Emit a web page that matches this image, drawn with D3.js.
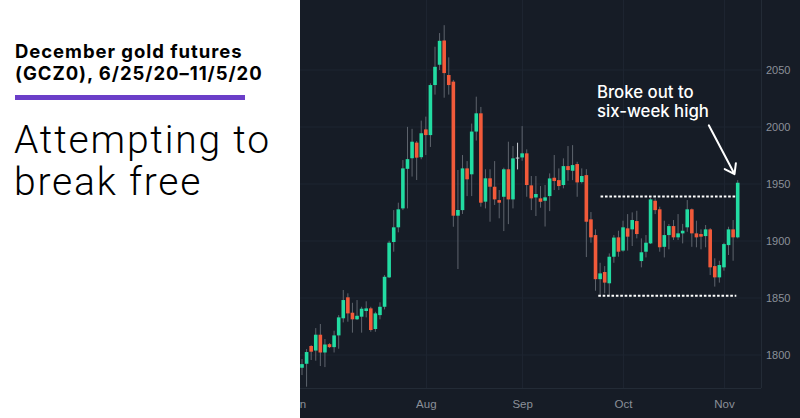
<!DOCTYPE html>
<html><head><meta charset="utf-8">
<script src="https://cdnjs.cloudflare.com/ajax/libs/d3/7.8.5/d3.min.js"></script>
<style>html,body{margin:0;padding:0;background:#fff;}svg{display:block;}</style>
</head><body>
<svg id="c" width="800" height="418"></svg>
<script>
const dates = [
"2020-06-25","2020-06-26","2020-06-29","2020-06-30",
"2020-07-01","2020-07-02","2020-07-03","2020-07-06","2020-07-07","2020-07-08","2020-07-09","2020-07-10","2020-07-13","2020-07-14","2020-07-15","2020-07-16","2020-07-17","2020-07-20","2020-07-21","2020-07-22","2020-07-23","2020-07-24","2020-07-27","2020-07-28","2020-07-29","2020-07-30","2020-07-31",
"2020-08-03","2020-08-04","2020-08-05","2020-08-06","2020-08-07","2020-08-10","2020-08-11","2020-08-12","2020-08-13","2020-08-14","2020-08-17","2020-08-18","2020-08-19","2020-08-20","2020-08-21","2020-08-24","2020-08-25","2020-08-26","2020-08-27","2020-08-28","2020-08-31",
"2020-09-01","2020-09-02","2020-09-03","2020-09-04","2020-09-07","2020-09-08","2020-09-09","2020-09-10","2020-09-11","2020-09-14","2020-09-15","2020-09-16","2020-09-17","2020-09-18","2020-09-21","2020-09-22","2020-09-23","2020-09-24","2020-09-25","2020-09-28","2020-09-29","2020-09-30",
"2020-10-01","2020-10-02","2020-10-05","2020-10-06","2020-10-07","2020-10-08","2020-10-09","2020-10-12","2020-10-13","2020-10-14","2020-10-15","2020-10-16","2020-10-19","2020-10-20","2020-10-21","2020-10-22","2020-10-23","2020-10-26","2020-10-27","2020-10-28","2020-10-29","2020-10-30",
"2020-11-02","2020-11-03","2020-11-04","2020-11-05"];

const open = [1788.8,1792.3,1807.9,1803.9,1817.8,1802.2,1809.5,1806.9,1817.2,1832.2,1850.6,1837.1,1831.3,1833.6,1838.6,1840.9,1822.8,1835.0,1842.3,1868.1,1899.1,1912.0,1928.6,1963.3,1972.6,1986.3,1973.5,1997.9,1992.9,2036.8,2054.6,2075.9,2045.6,2039.8,1922.2,1927.1,1963.7,1958.5,1996.0,2012.0,1934.5,1955.0,1947.6,1935.9,1938.8,1962.9,1936.5,1973.2,1973.3,1976.9,1948.8,1938.2,1937.4,1935.3,1939.4,1955.5,1953.4,1949.1,1965.7,1961.6,1967.5,1951.7,1957.8,1919.0,1905.2,1866.5,1872.8,1862.9,1886.2,1903.2,1891.6,1911.1,1910.2,1917.5,1882.4,1890.6,1897.9,1935.3,1927.8,1894.9,1905.2,1913.1,1903.2,1906.7,1912.0,1927.8,1906.7,1906.1,1904.3,1910.2,1878.0,1868.1,1876.9,1896.4,1910.2,1903.2];
const high = [1796.5,1805.2,1808.7,1823.6,1827.2,1814.0,1810.4,1821.3,1835.0,1857.0,1854.1,1845.8,1848.2,1842.3,1847.1,1842.3,1837.9,1846.2,1870.1,1900.2,1927.1,1933.6,1971.0,2000.1,1998.4,1987.7,2005.6,2009.1,2038.3,2070.4,2082.4,2089.3,2061.1,2041.3,1962.3,1975.4,1970.1,2003.0,2026.6,2017.6,1962.9,1962.9,1970.1,1944.7,1964.3,1987.1,1983.3,1986.2,2000.8,1980.4,1957.0,1957.0,1948.2,1949.1,1959.3,1975.4,1963.7,1972.5,1983.3,1984.1,1969.5,1963.7,1963.0,1925.4,1910.2,1880.9,1878.0,1889.1,1905.2,1909.0,1917.8,1923.6,1925.1,1926.5,1902.3,1905.2,1937.6,1937.4,1930.1,1917.8,1914.9,1918.4,1923.6,1915.0,1935.9,1928.5,1917.8,1910.2,1914.0,1911.3,1884.8,1882.7,1898.5,1912.5,1918.4,1953.4];
const low = [1782.4,1772.2,1795.6,1795.0,1790.3,1789.4,1806.1,1802.2,1805.5,1828.6,1829.2,1819.6,1830.7,1819.6,1833.0,1820.4,1820.4,1831.3,1840.0,1867.5,1890.6,1907.6,1927.1,1928.6,1956.5,1953.5,1971.7,1975.4,1982.5,2028.4,2050.0,2025.7,2028.4,1912.5,1875.4,1923.7,1939.4,1939.4,1988.1,1930.1,1928.6,1916.9,1931.6,1919.9,1908.7,1914.8,1928.6,1962.8,1970.4,1938.8,1927.1,1921.9,1929.2,1912.7,1926.2,1944.7,1944.7,1946.2,1952.8,1953.4,1938.8,1950.5,1885.9,1898.5,1856.4,1852.6,1854.1,1852.6,1880.9,1886.2,1890.6,1891.6,1895.6,1902.3,1876.9,1885.6,1897.3,1923.6,1890.6,1885.6,1892.7,1900.9,1900.9,1897.9,1908.1,1894.9,1894.5,1892.7,1894.5,1870.1,1860.0,1863.5,1874.0,1887.7,1882.7,1902.3];
const close = [1792.0,1802.6,1802.9,1817.8,1802.2,1809.2,1806.9,1817.2,1833.0,1848.2,1836.5,1831.3,1834.4,1840.6,1840.9,1821.9,1836.5,1842.3,1868.6,1898.5,1912.0,1927.8,1963.7,1971.8,1987.1,1973.1,1994.5,1992.9,2036.8,2052.8,2075.6,2047.3,2036.8,1922.2,1927.2,1963.7,1954.1,1996.0,2012.0,1933.6,1955.0,1947.6,1936.5,1933.6,1962.9,1936.5,1972.5,1973.2,1976.9,1949.1,1937.4,1941.2,1934.4,1938.3,1954.9,1952.6,1948.2,1965.7,1962.2,1966.6,1951.4,1957.0,1916.9,1903.2,1866.5,1871.6,1863.5,1886.2,1903.0,1890.6,1912.0,1903.8,1918.4,1906.1,1890.1,1898.5,1936.5,1927.1,1894.5,1905.2,1913.1,1903.2,1906.7,1909.0,1927.8,1906.7,1903.2,1903.8,1910.2,1876.9,1868.1,1878.9,1897.3,1910.2,1903.2,1951.1];

const priceTicks = [1800, 1850, 1900, 1950, 2000, 2050];
const monthTicks = [-1.25, 27, 48, 70, 92];
const monthLabels = ["Jun", "Aug", "Sep", "Oct", "Nov"];
const rangeTop = 1939;
const rangeBottom = 1852;

const svg = d3.select("#c");
const W = 800, H = 418;
const panelX = 300, plotRight = 761, plotBottom = 388;

const x = d3.scaleLinear().domain([0, dates.length - 1]).range([302, 737.7]);
const y = d3.scaleLinear().domain([1850, 2050]).range([298, 70]);

svg.append("rect").attr("x", panelX).attr("y", 0).attr("width", W - panelX).attr("height", H).attr("fill", "#161c26");

const defs = svg.append("defs");
defs.append("clipPath").attr("id", "clipPanel").append("rect").attr("x", panelX).attr("y", 0).attr("width", W - panelX).attr("height", H);

const g = svg.append("g").attr("clip-path", "url(#clipPanel)");

g.selectAll("line.hg").data(priceTicks).join("line").attr("class", "hg")
  .attr("x1", panelX).attr("x2", plotRight).attr("y1", d => y(d)).attr("y2", d => y(d))
  .attr("stroke", "#1d2430").attr("stroke-width", 1);
g.selectAll("line.vg").data(monthTicks.slice(1)).join("line").attr("class", "vg")
  .attr("x1", d => Math.round(x(d)) + 0.5).attr("x2", d => Math.round(x(d)) + 0.5).attr("y1", 0).attr("y2", plotBottom)
  .attr("stroke", "#1d2430").attr("stroke-width", 1);
g.append("line").attr("x1", plotRight + 0.5).attr("x2", plotRight + 0.5).attr("y1", 0).attr("y2", plotBottom).attr("stroke", "#232b36");
g.append("line").attr("x1", panelX).attr("x2", plotRight).attr("y1", plotBottom + 0.5).attr("y2", plotBottom + 0.5).attr("stroke", "#232b36");

const data = dates.map((d, i) => ({ i, d, o: open[i], h: high[i], l: low[i], c: close[i] }));
const green = "#22dca2", red = "#f25a3a";
const colorOf = d => d.c > d.o ? green : (d.c < d.o ? red : "#c8ccd2");
const bw = 3.6;

g.selectAll("line.wick").data(data).join("line").attr("class", "wick")
  .attr("x1", d => x(d.i)).attr("x2", d => x(d.i))
  .attr("y1", d => y(d.h)).attr("y2", d => y(d.l))
  .attr("stroke", d => d.c === d.o ? "#c8ccd2" : "#5e646d").attr("stroke-width", 1);

g.selectAll("rect.body").data(data).join("rect").attr("class", "body")
  .attr("x", d => x(d.i) - bw / 2)
  .attr("y", d => y(Math.max(d.o, d.c)))
  .attr("width", bw)
  .attr("height", d => Math.max(1, Math.abs(y(d.o) - y(d.c))))
  .attr("fill", colorOf);

g.append("line").attr("x1", x(65.1)).attr("x2", x(94.7)).attr("y1", y(rangeTop)).attr("y2", y(rangeTop))
  .attr("stroke", "#ffffff").attr("stroke-width", 2).attr("stroke-dasharray", "2.6,1.8");
g.append("line").attr("x1", x(64.6)).attr("x2", x(94.7)).attr("y1", y(rangeBottom)).attr("y2", y(rangeBottom))
  .attr("stroke", "#ffffff").attr("stroke-width", 2).attr("stroke-dasharray", "2.6,1.8");

const yAxis = d3.axisRight(y).tickValues(priceTicks).tickSize(0).tickPadding(5).tickFormat(d3.format("d"));
const ya = g.append("g").attr("transform", `translate(${plotRight},0)`).call(yAxis);
ya.select(".domain").remove();
ya.selectAll("text").attr("fill", "#8b9099").style("font-family", "'Liberation Sans', Arial, sans-serif").style("font-size", "11px");

const xAxis = d3.axisBottom(x).tickValues(monthTicks).tickSize(0).tickPadding(12).tickFormat((d, k) => monthLabels[k]);
const xa = g.append("g").attr("transform", `translate(0,${plotBottom})`).call(xAxis);
xa.select(".domain").remove();
xa.selectAll("text").attr("fill", "#8b9099").style("font-family", "'Liberation Sans', Arial, sans-serif").style("font-size", "11.5px");

const ann = g.append("text").attr("fill", "#ffffff")
  .style("font-family", "Inter, 'Noto Sans', sans-serif").style("font-size", "16.8px").style("font-weight", 500);
ann.append("tspan").attr("x", x(64.3)).attr("y", y(2025.4)).text("Broke out to");
ann.append("tspan").attr("x", x(64.3)).attr("y", y(2025.4) + 18.7).text("six-week high");

const ax1 = x(88.7), ay1 = y(2001.5), ax2 = x(95) - 3.2, ay2 = y(1958.7);
const ang = Math.atan2(ay2 - ay1, ax2 - ax1);
const hl = 11, ha = 35 * Math.PI / 180;
const p1 = [ax2 - hl * Math.cos(ang - ha), ay2 - hl * Math.sin(ang - ha)];
const p2 = [ax2 - hl * Math.cos(ang + ha), ay2 - hl * Math.sin(ang + ha)];
g.append("path").attr("d", `M${ax1},${ay1}L${ax2},${ay2}M${p1[0]},${p1[1]}L${ax2},${ay2}L${p2[0]},${p2[1]}`)
  .attr("fill", "none").attr("stroke", "#ffffff").attr("stroke-width", 2).attr("stroke-linecap", "round").attr("stroke-linejoin", "round");

svg.append("rect").attr("x", 0).attr("y", 0).attr("width", panelX).attr("height", H).attr("fill", "#ffffff");
const title = svg.append("text").attr("fill", "#000")
  .style("font-family", "Inter, 'Noto Sans', sans-serif").style("font-size", "18.5px").style("font-weight", 700)
  .style("letter-spacing", "0.95px");
title.append("tspan").attr("x", 15).attr("y", 57.5).text("December gold futures");
title.append("tspan").attr("x", 15).attr("y", 80).text("(GCZ0), 6/25/20–11/5/20");
svg.append("rect").attr("x", 15).attr("y", 95).attr("width", 230).attr("height", 5).attr("fill", "#6b3ec8");
const head = svg.append("text").attr("fill", "#000")
  .style("font-family", "Roboto, Inter, sans-serif").style("font-size", "39px").style("font-weight", 300)
  .style("letter-spacing", "1.8px");
head.append("tspan").attr("x", 14).attr("y", 153.3).text("Attempting to");
head.append("tspan").attr("x", 14).attr("y", 195).text("break free");
</script>
</body></html>
